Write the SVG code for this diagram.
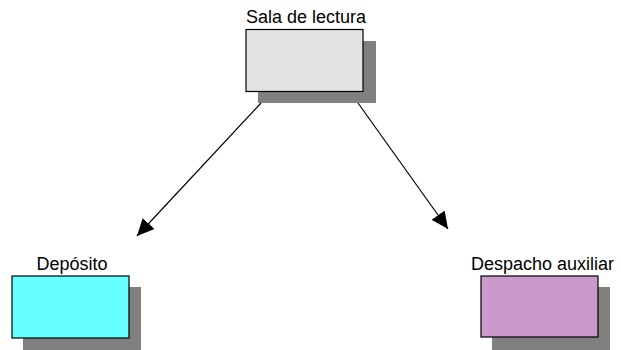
<svg xmlns="http://www.w3.org/2000/svg" width="621" height="350" viewBox="0 0 621 350">
<style>
.lbl{font-family:"Liberation Sans",Arial,sans-serif;font-size:18px;fill:#000;text-anchor:middle}
.shadow{fill:#808080}
.box{stroke:#000;stroke-width:1.2}
.conn{stroke:#000;stroke-width:1.2;fill:none;marker-end:url(#ah)}
</style>
<defs>
<marker id="ah" markerUnits="userSpaceOnUse" markerWidth="18" markerHeight="16" refX="17" refY="8" orient="auto">
<path d="M0,0 L17,8 L0,16 Z" fill="#000"/>
</marker>
</defs>
<rect width="621" height="350" fill="#fff"/>
<g id="connectors">
<line class="conn" x1="261" y1="103" x2="137" y2="236"/>
<line class="conn" x1="358" y1="103" x2="448" y2="229"/>
</g>
<g id="sala">
<rect class="shadow" x="258" y="41" width="118" height="62"/>
<rect class="box" x="246" y="29.5" width="117" height="62" fill="#e3e3e3"/>
<text class="lbl" x="306" y="23">Sala de lectura</text>
</g>
<g id="deposito">
<rect class="shadow" x="23" y="287" width="118" height="63"/>
<rect class="box" x="12" y="276" width="117" height="62" fill="#66ffff"/>
<text class="lbl" x="72" y="270">Depósito</text>
</g>
<g id="despacho">
<rect class="shadow" x="492" y="287" width="118" height="63"/>
<rect class="box" x="481" y="276" width="117" height="61" fill="#cc99cc"/>
<text class="lbl" x="542.5" y="270">Despacho auxiliar</text>
</g>
</svg>
